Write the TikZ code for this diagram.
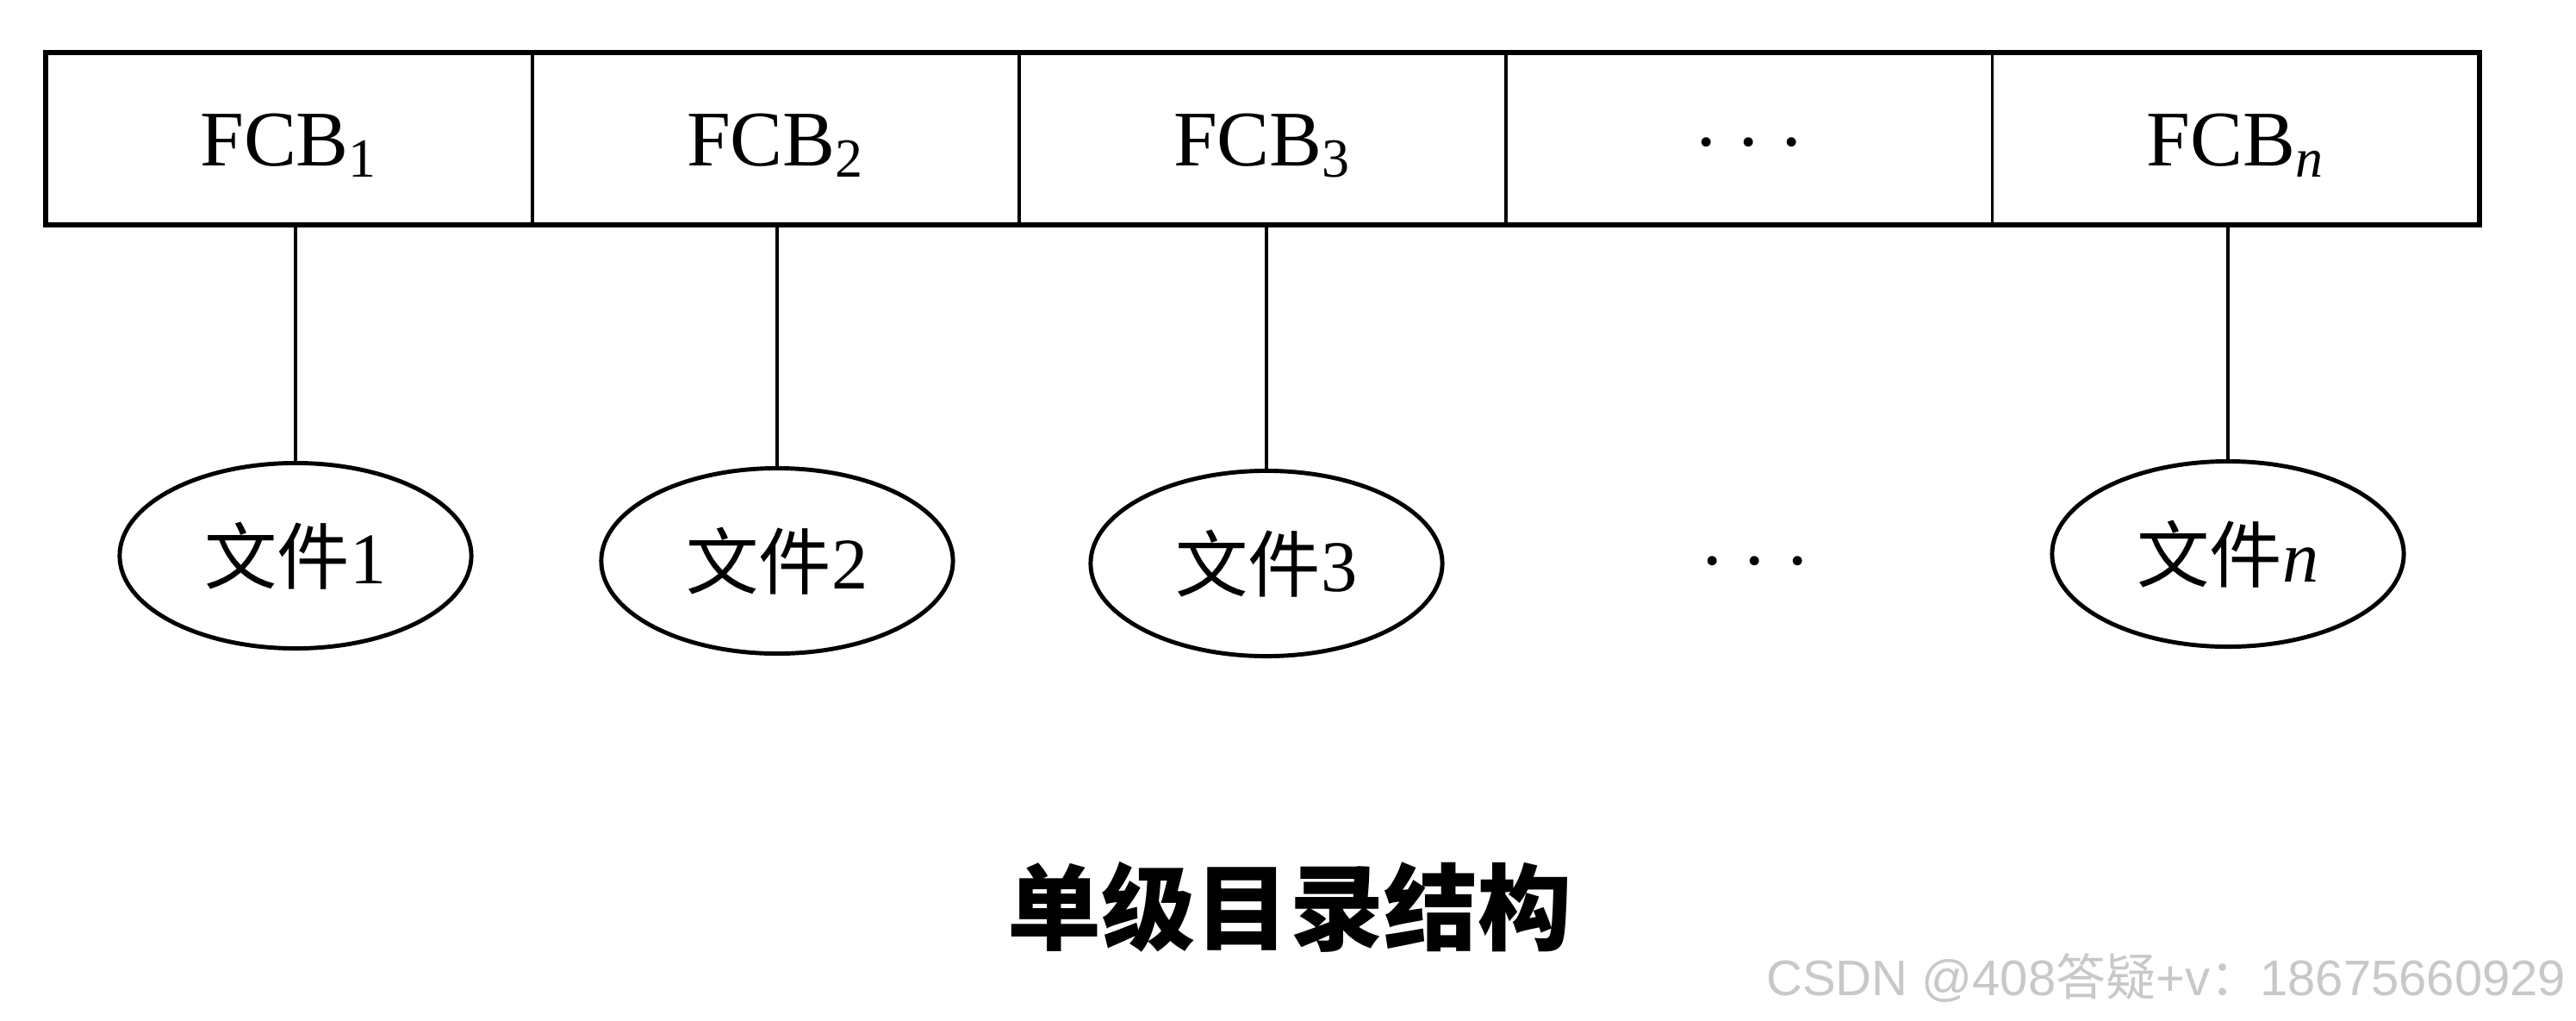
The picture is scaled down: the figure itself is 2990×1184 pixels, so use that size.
\documentclass[tikz,border=0pt]{standalone}
\usepackage{fontspec}
\setmainfont{Liberation Serif}
\newfontfamily\cjk{Noto Sans CJK SC}
\newfontfamily\wmfont{Liberation Sans}
\usetikzlibrary{shapes.geometric}
\definecolor{wmgray}{RGB}{200,200,200}
\newcommand\threedots{·\hspace{0.19cm}·\hspace{0.19cm}·}
\begin{document}
\begin{tikzpicture}[x=0.01cm,y=-0.01cm,
  cell/.style={draw, line width=1pt, minimum width=5.646cm, minimum height=2cm,
    inner sep=0pt, outer sep=0pt, anchor=west},
  fcbtext/.style={inner sep=0pt, font=\fontsize{26}{30}\selectfont},
  file/.style={ellipse, draw, line width=1.4pt, minimum width=4.08cm, minimum height=2.15cm,
    inner sep=0pt, font=\fontsize{24}{28}\selectfont},
  dots/.style={font=\fontsize{26}{30}\selectfont, inner sep=0pt},
  link/.style={line width=1.05pt},
  frame/.style={line width=1.7pt}]
\useasboundingbox (0,0) rectangle (2990,1184);
% FCB row
\node[cell] (c1) at (53,161) {};
\node[cell] (c2) at (c1.east) {};
\node[cell] (c3) at (c2.east) {};
\node[cell] (c4) at (c3.east) {};
\node[cell] (c5) at (c4.east) {};
\draw[frame] (c1.north west) rectangle (c5.south east);
\node[fcbtext] (t1) at ([yshift=-0.08cm]c1.center) {FCB\textsubscript{1}};
\node[fcbtext] (t2) at ([yshift=-0.08cm]c2.center) {FCB\textsubscript{2}};
\node[fcbtext] (t3) at ([yshift=-0.08cm]c3.center) {FCB\textsubscript{3}};
\node[dots] (t4) at ([yshift=-0.17cm]c4.center) {\threedots};
\node[fcbtext] (t5) at ([yshift=-0.08cm]c5.center) {FCB\textsubscript{\textit{n}}};
% files
\node[file] (f1) at (343,645) {{\cjk 文件}1};
\node[file] (f2) at (902,651) {{\cjk 文件}2};
\node[file] (f3) at (1470,654) {{\cjk 文件}3};
\node[dots] (fd) at (2037,664) {\threedots};
\node[file] (fn) at (2586,643) {{\cjk 文件}\textit{n}};
% links
\draw[link] (f1.north) -- (f1.north |- c1.south);
\draw[link] (f2.north) -- (f2.north |- c2.south);
\draw[link] (f3.north) -- (f3.north |- c3.south);
\draw[link] (fn.north) -- (fn.north |- c5.south);
% caption
\node (title) at (1497,1053) {\cjk\bfseries\fontsize{31}{34}\selectfont 单级目录结构};
\node[anchor=east, text=wmgray, inner sep=0pt] (wm) at (2979,1135)
  {\fontsize{16.5}{20}\selectfont\wmfont CSDN @408{\cjk 答疑}+v{\cjk ：}18675660929};
\end{tikzpicture}
\end{document}
